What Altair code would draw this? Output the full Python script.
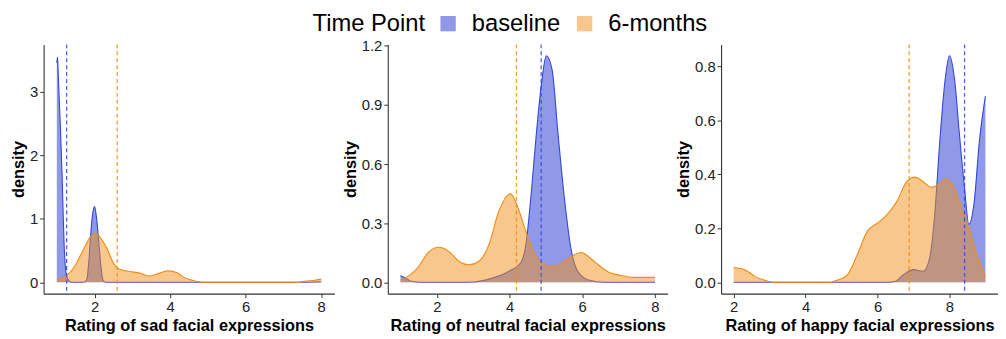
import altair as alt
import pandas as pd

groups = ["baseline", "6-months"]
fill_colors = ["#1f34d2", "#f0901a"]
line_colors = ["#3347da", "#f08c14"]

# ---- Panel 1: sad ----
sad_base_x = [1.0, 1.02, 1.04, 1.10, 1.14, 1.19, 1.25, 1.30, 1.35, 1.40, 1.60, 1.75, 1.80, 1.85, 1.91, 1.95, 2.0, 2.05, 2.11, 2.16, 2.22, 2.30, 3.0, 4.0, 5.0, 6.0, 7.0, 7.4, 8.0]
sad_base_y = [3.45, 3.54, 3.23, 2.35, 1.67, 0.64, 0.12, 0.04, 0.01, 0.0, 0.0, 0.01, 0.06, 0.35, 0.85, 1.08, 1.19, 1.02, 0.64, 0.30, 0.04, 0.0, 0.0, 0.0, 0.0, 0.0, 0.0, 0.0, 0.01]
sad_6m_x = [1.0, 1.2, 1.37, 1.5, 1.63, 1.76, 1.89, 2.0, 2.06, 2.2, 2.33, 2.5, 2.68, 2.94, 3.2, 3.46, 3.72, 3.94, 4.2, 4.33, 4.6, 4.86, 5.5, 6.5, 7.39, 7.6, 7.8, 8.0]
sad_6m_y = [0.04, 0.09, 0.17, 0.28, 0.43, 0.58, 0.72, 0.76, 0.76, 0.66, 0.53, 0.30, 0.20, 0.17, 0.145, 0.10, 0.145, 0.18, 0.145, 0.09, 0.03, 0.0, 0.0, 0.0, 0.0, 0.02, 0.03, 0.05]
sad_means = [1.26, 2.60]

# ---- Panel 2: neutral ----
neu_base_x = [1.0, 1.15, 1.3, 1.6, 2.0, 2.5, 3.0, 3.5, 3.97, 4.33, 4.47, 4.6, 4.74, 4.88, 5.01, 5.17, 5.33, 5.51, 5.69, 5.88, 6.2, 6.6, 7.0, 8.0]
neu_base_y = [0.034, 0.02, 0.005, 0.0, 0.0, 0.0, 0.002, 0.02, 0.055, 0.106, 0.22, 0.46, 0.76, 1.01, 1.15, 1.08, 0.76, 0.425, 0.17, 0.055, 0.01, 0.0, 0.0, 0.0]
neu_6m_x = [1.0, 1.2, 1.43, 1.79, 2.05, 2.34, 2.61, 2.88, 3.15, 3.43, 3.7, 4.02, 4.24, 4.42, 4.70, 4.97, 5.24, 5.6, 5.97, 6.33, 6.69, 7.06, 7.42, 8.0]
neu_6m_y = [0.01, 0.03, 0.064, 0.156, 0.178, 0.156, 0.106, 0.089, 0.106, 0.19, 0.358, 0.45, 0.375, 0.274, 0.14, 0.089, 0.081, 0.12, 0.151, 0.106, 0.055, 0.035, 0.025, 0.025]
neu_means = [4.87, 4.19]

# ---- Panel 3: happy ----
hap_base_x = [2.0, 3.0, 4.0, 5.0, 6.0, 6.3, 6.5, 6.72, 7.0, 7.27, 7.45, 7.59, 7.73, 7.87, 8.0, 8.14, 8.28, 8.42, 8.54, 8.69, 8.83, 9.0]
hap_base_y = [0.0, 0.0, 0.0, 0.0, 0.0, 0.0, 0.004, 0.028, 0.047, 0.041, 0.09, 0.25, 0.52, 0.74, 0.84, 0.754, 0.545, 0.348, 0.215, 0.30, 0.52, 0.69]
hap_6m_x = [2.0, 2.31, 2.59, 2.96, 3.1, 4.0, 4.7, 4.79, 5.16, 5.43, 5.71, 5.99, 6.26, 6.54, 6.81, 7.04, 7.27, 7.5, 7.73, 7.91, 8.14, 8.37, 8.6, 8.79, 9.0]
hap_6m_y = [0.055, 0.047, 0.022, 0.004, 0.0, 0.0, 0.0, 0.004, 0.028, 0.10, 0.188, 0.219, 0.25, 0.30, 0.373, 0.39, 0.373, 0.352, 0.366, 0.383, 0.348, 0.262, 0.176, 0.09, 0.022]
hap_means = [8.42, 6.88]

x_ticks = [2, 4, 6, 8]

color_scale = alt.Scale(domain=groups, range=fill_colors)
legend = alt.Legend(
    orient="none", legendX=272, legendY=-33, direction="horizontal",
    titleOrient="left", title="Time Point", titleFontSize=24, titleFontWeight="normal",
    titleColor="#000", titlePadding=11, labelFontSize=24, labelColor="#000",
    symbolType="square", symbolSize=240, symbolStrokeWidth=1, symbolOpacity=0.5,
    labelOffset=12, columnPadding=12, titleFont="Liberation Sans", labelFont="Liberation Sans",
)


def panel(bx, by, ox, oy, means, xdom, ydom, yvals, yfmt, xtitle, width):
    rows = []
    for xv, yv in zip(bx, by):
        rows.append({"x": xv, "y": yv, "group": groups[0]})
    for xv, yv in zip(ox, oy):
        rows.append({"x": xv, "y": yv, "group": groups[1]})
    df = pd.DataFrame(rows)
    mdf = pd.DataFrame({"x": means, "group": groups})

    x_enc = alt.X("x:Q", scale=alt.Scale(domain=xdom, nice=False, zero=False),
                  axis=alt.Axis(values=x_ticks, title=xtitle, grid=False))
    y_enc = alt.Y("y:Q", scale=alt.Scale(domain=ydom, nice=False, zero=False),
                  axis=alt.Axis(values=yvals, format=yfmt, title="density", grid=False))
    layers = []
    for g, lc in zip(groups, line_colors):
        d = df[df.group == g]
        layers.append(alt.Chart(d).mark_area(opacity=0.5, interpolate="monotone").encode(
            x=x_enc, y=y_enc, y2=alt.datum(0),
            color=alt.Color("group:N", scale=color_scale, legend=legend)))
        layers.append(alt.Chart(d).mark_line(strokeWidth=1.1, interpolate="monotone").encode(
            x=x_enc, y=y_enc, color=alt.value(lc)))
    for g, lc in zip(groups, line_colors):
        layers.append(alt.Chart(mdf[mdf.group == g]).mark_rule(strokeDash=[4, 3], strokeWidth=1.3, opacity=0.85).encode(
            x=x_enc, color=alt.value(lc)))
    return alt.layer(*layers).properties(width=width, height=252)


p1 = panel(sad_base_x, sad_base_y, sad_6m_x, sad_6m_y, sad_means, [0.65, 8.35], [-0.178, 3.74],
           [0, 1, 2, 3], "d", "Rating of sad facial expressions", 294)
p2 = panel(neu_base_x, neu_base_y, neu_6m_x, neu_6m_y, neu_means, [0.65, 8.35], [-0.0575, 1.2075],
           [0.0, 0.3, 0.6, 0.9, 1.2], ".1f", "Rating of neutral facial expressions", 283)
p3 = panel(hap_base_x, hap_base_y, hap_6m_x, hap_6m_y, hap_means, [1.65, 9.35], [-0.042, 0.882],
           [0.0, 0.2, 0.4, 0.6, 0.8], ".1f", "Rating of happy facial expressions", 280)

chart = alt.hconcat(p1, p2, p3, spacing=8).resolve_scale(color="shared").properties(
    padding={"left": 2, "top": 2, "right": 0, "bottom": 0}
).configure_view(stroke=None).configure_axis(
    domainColor="#333333", tickColor="#333333", labelColor="#222222",
    labelFont="Liberation Sans", titleFont="Liberation Sans", labelFontSize=15,
    titleFontSize=16.5, titleFontWeight="bold", titleColor="#000000", tickSize=4,
    labelPadding=2, titlePadding=3, domainWidth=1.1
)

chart.save("out.html", embed_options={"renderer": "svg", "actions": False})
